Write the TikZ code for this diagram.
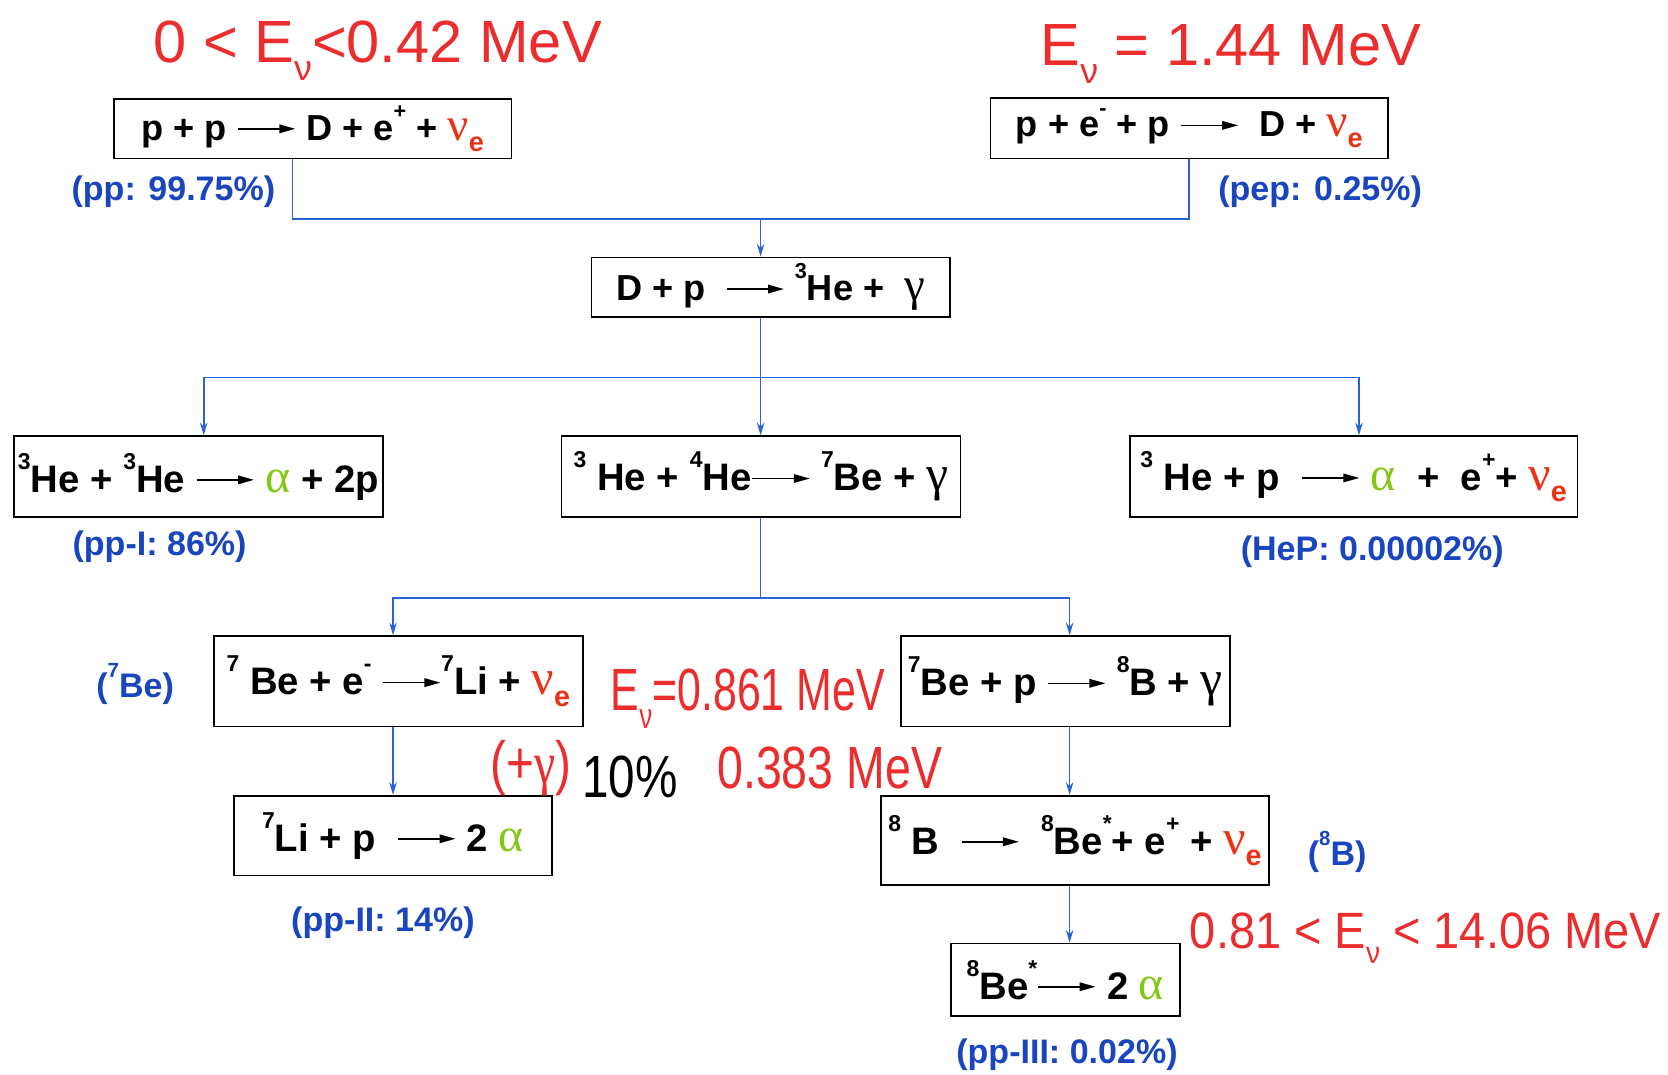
\documentclass[tikz,border=0pt]{standalone}
\usepackage{fontspec}
\usepackage{graphicx}
\setmainfont{Liberation Sans}
\newfontfamily\grk{Liberation Serif}
\usetikzlibrary{arrows.meta}
\definecolor{lblue}{RGB}{25,70,190}
\definecolor{cblue}{RGB}{40,100,215}
\definecolor{hred}{RGB}{235,45,45}
\definecolor{nured}{RGB}{235,50,20}
\definecolor{agreen}{RGB}{130,200,20}
\newcommand\sps[1]{\raisebox{0.6em}{\scalebox{0.6}{#1}}}
\newcommand\nue{{\color{nured}\scalebox{1.3}{\grk\mdseries ν}\raisebox{-0.3em}{\scalebox{0.75}{e}}}}
\newcommand\alp{{\color{agreen}\scalebox{1.25}{\grk\mdseries α}}}
\newcommand\gam{\scalebox{1.3}{\grk\mdseries γ}}
\newcommand\rarr{\tikz[baseline=0pt]\draw[black,line width=1.5pt,-{Triangle[length=15pt,width=8pt]}] (0pt,0.32em) -- (54pt,0.32em);}
\newcommand\Enu{E\raisebox{-0.3em}{\scalebox{0.6}{ν}}}
\tikzset{
  rbox/.style={draw=black, line width=1.5pt, inner sep=0pt, font=\bfseries\fontsize{34}{40}\selectfont},
  rboxb/.style={rbox, font=\bfseries\fontsize{36}{40}\selectfont},
  lbl/.style={text=lblue, inner sep=0pt, font=\bfseries\fontsize{32}{36}\selectfont},
  hand/.style={text=hred, inner sep=0pt, font=\fontsize{56}{60}\selectfont},
  conn/.style={draw=cblue, line width=1.6pt},
  arr/.style={conn, -{Stealth[length=12pt,width=7pt]}}
}
\begin{document}
\begin{tikzpicture}[x=1pt,y=-1pt]
\useasboundingbox[fill=white] (0,0) rectangle (1568,1010);
% boxes
\node[rbox, minimum width=374, minimum height=56] (A) at (294,121) {p + p \rarr\ D + e\sps{+} + \nue};
\node[rbox, minimum width=374, minimum height=57] (B) at (1118,120.5) {p + e\sps{-} + p \rarr\ \ D + \nue};
\node[rbox, minimum width=337, minimum height=56] (C) at (724.5,270) {D + p \ \rarr\ \sps{3}He + \ \gam};
\node[rboxb, minimum width=347, minimum height=76] (D) at (186.5,448) {\sps{3}He + \sps{3}He \rarr\ \alp\ + 2p};
\node[rboxb, minimum width=375, minimum height=76] (E) at (715.5,448) {\sps{3} He + \sps{4}He\rarr\ \sps{7}Be + \gam};
\node[rboxb, minimum width=421, minimum height=76] (F) at (1272.5,448) {\sps{3} He + p \ \rarr\ \alp\ \ + \ e\sps{+}+ \nue};
\node[rboxb, minimum width=347, minimum height=85] (G) at (374.5,640.5) {\sps{7} Be + e\sps{-} \rarr\sps{7}Li + \nue};
\node[rboxb, minimum width=309, minimum height=85] (H) at (1001.5,640.5) {\sps{7}Be + p \rarr\ \sps{8}B + \gam};
\node[rboxb, minimum width=299, minimum height=75] (I) at (369.5,785.5) {\sps{7}Li + p \ \rarr\ 2 \alp};
\node[rboxb, minimum width=365, minimum height=84] (J) at (1010.5,790) {\sps{8} B \ \rarr\ \ \sps{8}Be\sps{*}+ e\sps{+} + \nue};
\node[rboxb, minimum width=215, minimum height=68] (K) at (1001.5,921) {\sps{8}Be\sps{*}\rarr\ 2 \alp};
% labels
\node[lbl] (L1) at (163,180) {(pp: 99.75\%)};
\node[lbl] (L2) at (1241,180) {(pep: 0.25\%)};
\node[lbl] (L3) at (150,514) {(pp-I: 86\%)};
\node[lbl] (L4) at (1290,519) {(HeP: 0.00002\%)};
\node[lbl] (L5) at (127,643) {(\sps{7}Be)};
\node[lbl] (L6) at (360,867) {(pp-II: 14\%)};
\node[lbl] (L7) at (1257,801) {(\sps{8}B)};
\node[lbl] (L8) at (1003,991) {(pp-III: 0.02\%)};
% handwritten notes
\node[hand] (H1) at (355,48) {0 < \Enu<0.42 MeV};
\node[hand] (H2) at (1157,51) {\Enu\ = 1.44 MeV};
\node[hand] (H3) at (703,657) {\scalebox{0.72}[1]{\Enu=0.861 MeV}};
\node[hand] (H4) at (499,722) {\scalebox{0.8}[1]{(+{\grk γ})}};
\node[hand, text=black] (H5) at (592,730) {\scalebox{0.8}[1]{10\%}};
\node[hand] (H6) at (780,722) {\scalebox{0.78}[1]{0.383 MeV}};
\node[hand, font=\fontsize{48}{52}\selectfont] (H7) at (1340,882) {\scalebox{0.92}[1]{0.81 < \Enu\ < 14.06 MeV}};
% connectors
\coordinate (j1) at (715,206);
\coordinate (j2) at (715,355);
\coordinate (j3) at (715,562);
\draw[conn] ([xshift=-19pt]A.south) |- (j1) -| (B.south);
\draw[arr] (j1) -- (C.north -| j1);
\draw[conn] (C.south -| j2) -- (j2);
\draw[arr] (j2) -| ([xshift=5pt]D.north);
\draw[arr] (j2) -- (E.north -| j2);
\draw[arr] (j2) -| ([xshift=5pt]F.north);
\draw[conn] (E.south -| j3) -- (j3);
\draw[arr] (j3) -| ([xshift=-5pt]G.north);
\draw[arr] (j3) -| ([xshift=4pt]H.north);
\draw[arr] ([xshift=-5pt]G.south) -- ([xshift=-5pt]G.south |- I.north);
\draw[arr] ([xshift=4pt]H.south) -- ([xshift=4pt]H.south |- J.north);
\draw[arr] ([xshift=4pt]K.north |- J.south) -- ([xshift=4pt]K.north);
\end{tikzpicture}
\end{document}
